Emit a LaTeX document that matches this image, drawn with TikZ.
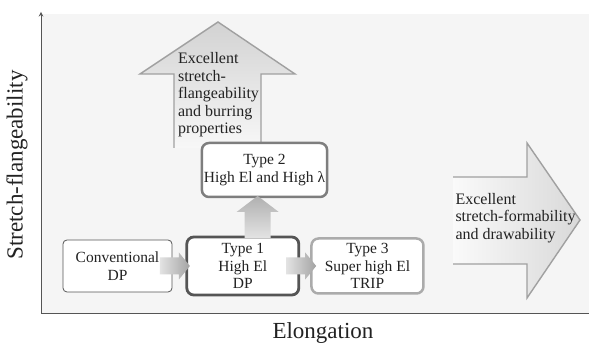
\documentclass[tikz,border=0pt]{standalone}
\usepackage{fontspec}
\setmainfont{Liberation Serif}
\usepackage{tikz}
\usetikzlibrary{arrows, positioning, calc}
\definecolor{panel}{HTML}{F5F5F5}
\definecolor{ink}{HTML}{222222}
\definecolor{darkline}{HTML}{555555}
\definecolor{midline}{HTML}{7E7E7E}
\definecolor{lightline}{HTML}{ABABAB}
\definecolor{bigline}{HTML}{A0A0A0}
\tikzstyle{steel} = [rectangle, rounded corners=7pt, align=center, fill=white,
text=ink, inner sep=2pt, font=\fontsize{15.5}{17.5}\selectfont]
\tikzstyle{oldsteel} = [steel, rounded corners=4pt, draw=darkline,
line width=0.8pt, minimum width=109pt, minimum height=52pt]
\tikzstyle{typeone} = [steel, draw=darkline, line width=2.8pt,
minimum width=112pt, minimum height=58pt]
\tikzstyle{typetwo} = [steel, draw=midline, line width=2.5pt,
minimum width=121pt, minimum height=54pt]
\tikzstyle{typethree} = [steel, draw=lightline, line width=2.5pt,
minimum width=112pt, minimum height=55pt]
\tikzstyle{bigtext} = [align=left, text=ink, inner sep=0pt,
font=\fontsize{16}{17.5}\selectfont]
\tikzstyle{axislabel} = [text=ink, font=\fontsize{23}{26}\selectfont]
% shaded block arrows, centred on a named coordinate
\newcommand{\steelarrowright}[1]{\shade[left color=gray!22, right color=gray!72]
(#1) ++(-15,-8.5) -- ++(19,0) -- ++(0,-5) -- ++(11,13.5) -- ++(-11,13.5) --
++(0,-5) -- ++(-19,0) -- cycle;}
\newcommand{\steelarrowup}[1]{\shade[bottom color=gray!22, top color=gray!62]
(#1) ++(-13,-21) -- ++(0,26) -- ++(-8,0) -- ++(21,16) -- ++(21,-16) --
++(-8,0) -- ++(0,-26) -- cycle;}

\begin{document}
\begin{tikzpicture}[x=1pt, y=1pt, node distance=13pt]

\useasboundingbox (0,0) rectangle (589,345);
\fill[panel] (41,31) rectangle (589,331);

\coordinate (origin) at (41,31);
\coordinate (ytop) at (41,333);
\coordinate (xend) at (589,31);
\draw[darkline, line width=1pt] (origin) -- (xend);
\draw[darkline, line width=1pt, ->, >=stealth] (origin) -- (ytop);

\node(ylab)[axislabel, rotate=90] at (17,180){Stretch-flangeability};
\node(xlab)[axislabel] at (323,12){Elongation};

% big arrows
\shade[top color=gray!35, bottom color=gray!6] (174,197) -- (174,271) --
(140,271) -- (218,323) -- (295,271) -- (261,271) -- (261,197) -- cycle;
\draw[bigline, line width=1.4pt, line join=miter] (174,197) -- (174,271) --
(140,271) -- (218,323) -- (295,271) -- (261,271) -- (261,197);
\node(flange)[bigtext] at (218.5,250){Excellent\\stretch-\\flangeability\\and burring\\properties};

\shade[left color=gray!4, right color=gray!30] (453,168) -- (527,168) --
(527,202) -- (580,125) -- (527,47) -- (527,81) -- (453,81) -- cycle;
\draw[bigline, line width=1.4pt, line join=miter] (453,168) -- (527,168) --
(527,202) -- (580,125) -- (527,47) -- (527,81) -- (453,81);
\node(form)[bigtext] at (515.5,127){Excellent\\stretch-formability\\and drawability};

% steel grades
\node(conv)[oldsteel] at (117.5,79){Conventional\\DP};
\node(type1)[typeone, right=of conv]{Type 1\\High El\\DP};
\node(type3)[typethree, right=10pt of type1]{Type 3\\Super high El\\TRIP};
\node(type2)[typetwo] at (264.5,175){Type 2\\High El and High λ};

\coordinate (a1) at ([xshift=-4pt]$(conv.east)!0.5!(type1.west)$);
\coordinate (a3) at ([xshift=-4pt]$(type1.east)!0.5!(type3.west)$);
\coordinate (a2) at ([xshift=4pt]$(type1.north)!0.5!(type2.south)$);
\steelarrowright{a1}
\steelarrowright{a3}
\steelarrowup{a2}

\end{tikzpicture}
\end{document}
